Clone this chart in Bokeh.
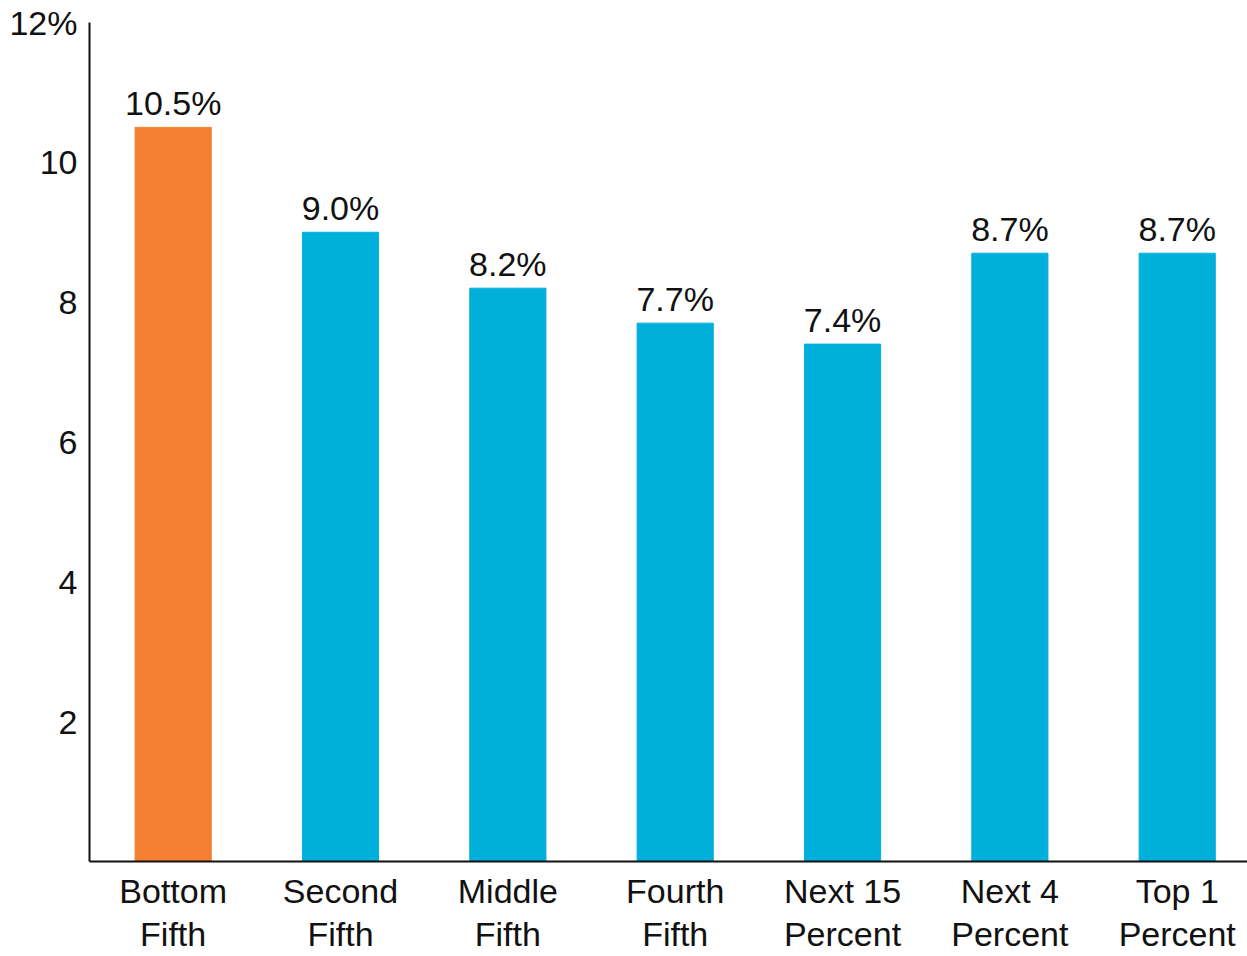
from bokeh.plotting import figure
from bokeh.models import ColumnDataSource, Range1d, FixedTicker
from bokeh.core.properties import value
from bokeh.embed import file_html
from bokeh.resources import INLINE

categories = ["Bottom\nFifth", "Second\nFifth", "Middle\nFifth", "Fourth\nFifth",
              "Next 15\nPercent", "Next 4\nPercent", "Top 1\nPercent"]
values = [10.5, 9.0, 8.2, 7.7, 7.4, 8.7, 8.7]
value_labels = ["10.5%", "9.0%", "8.2%", "7.7%", "7.4%", "8.7%", "8.7%"]
colors = ["#F47F30", "#00B0DB", "#00B0DB", "#00B0DB", "#00B0DB", "#00B0DB", "#00B0DB"]
y_ticks = [2, 4, 6, 8, 10, 12]
y_tick_labels = ["2", "4", "6", "8", "10", "12%"]

FONT = "Liberation Sans"
FS = "34px"
INK = "#111111"

xs = list(range(len(values)))
src = ColumnDataSource(dict(x=xs, top=values, color=colors, label=value_labels))

p = figure(width=1247, height=956, output_backend="svg", toolbar_location=None,
           x_range=Range1d(-0.5, 6.42), y_range=Range1d(0, 12),
           min_border_left=89, min_border_right=0, min_border_top=22, min_border_bottom=95)
p.outline_line_color = None
p.grid.visible = False
p.background_fill_color = "white"
p.border_fill_color = "white"

p.vbar(x="x", top="top", width=0.455, bottom=0, color="color", source=src)
p.text(x="x", y="top", text="label", source=src, text_align="center",
       text_baseline="bottom", y_offset=-5, text_font=value(FONT),
       text_font_size=FS, text_color=INK)

p.xaxis.ticker = FixedTicker(ticks=xs)
p.xaxis.major_label_overrides = {i: c for i, c in zip(xs, categories)}
p.yaxis.ticker = FixedTicker(ticks=y_ticks)
p.yaxis.major_label_overrides = {t: l for t, l in zip(y_ticks, y_tick_labels)}

for ax in (p.xaxis[0], p.yaxis[0]):
    ax.axis_line_color = INK
    ax.axis_line_width = 2
    ax.major_tick_line_color = None
    ax.minor_tick_line_color = None
    ax.major_tick_out = 0
    ax.major_tick_in = 0
    ax.major_label_text_font = FONT
    ax.major_label_text_font_size = FS
    ax.major_label_text_color = INK
p.xaxis.major_label_text_line_height = 1.15
p.xaxis.major_label_standoff = 10
p.yaxis.major_label_standoff = 12

open("out.html", "w").write(file_html(p, INLINE))
